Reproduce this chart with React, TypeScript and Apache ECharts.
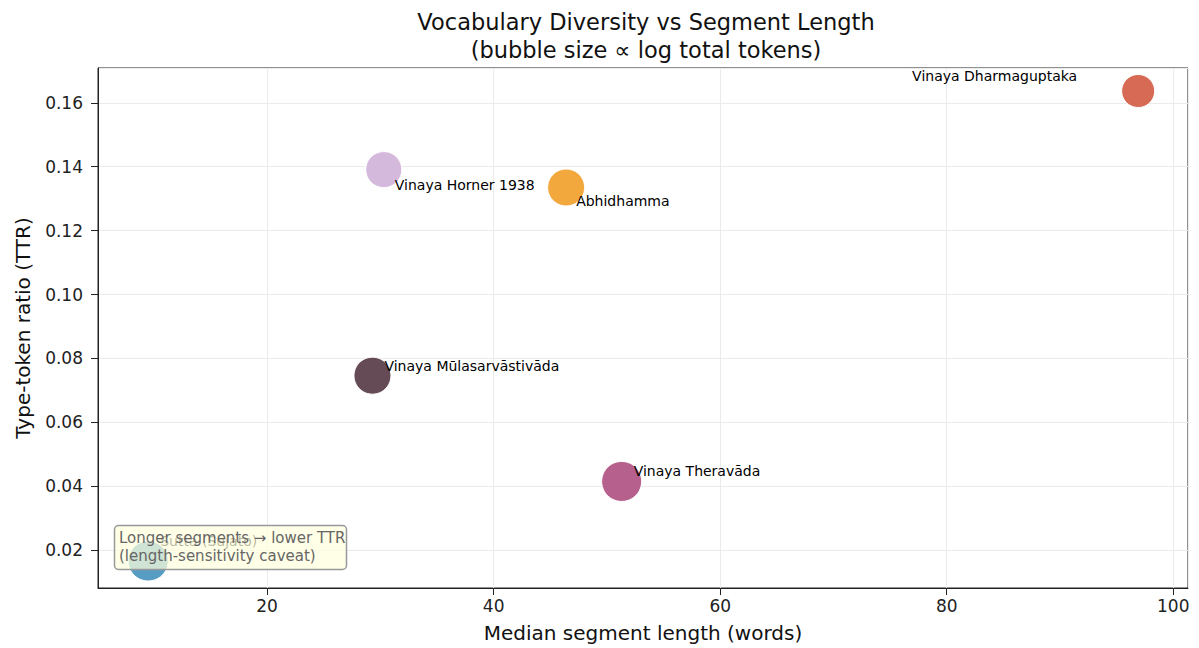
import React, { useEffect, useRef } from "react";
import * as echarts from "echarts";

const names = [
  "Sutta (Sujato)",
  "Vinaya Mūlasarvāstivāda",
  "Vinaya Horner 1938",
  "Abhidhamma",
  "Vinaya Theravāda",
  "Vinaya Dharmaguptaka",
];
const medianLength = [9.5, 29.3, 30.3, 46.4, 51.3, 96.9];
const ttr = [0.0166, 0.0746, 0.1391, 0.1335, 0.0415, 0.1637];
const bubbleSize = [40, 37, 36, 37, 40, 33];
const colors = ["#579dc3", "#644b55", "#d5b9dd", "#f2a83c", "#b5608d", "#d66a54"];
const labelOffsets: [number, number, string][] = [
  [12, -20, "left"],
  [12, -10, "left"],
  [11, 15, "left"],
  [10, 14, "left"],
  [12, -10, "left"],
  [-61, -15, "right"],
];
const titleText = "Vocabulary Diversity vs Segment Length\n(bubble size ∝ log total tokens)";
const noteText = "Longer segments → lower TTR\n(length-sensitivity caveat)";

export default function App() {
  const ref = useRef<HTMLDivElement>(null);
  useEffect(() => {
    if (!ref.current) return;
    const chart = echarts.init(ref.current, undefined, { renderer: "svg" });
    const font = "DejaVu Sans";
    chart.setOption({
      animation: false,
      textStyle: { fontFamily: font },
      title: {
        text: titleText,
        left: 641,
        textAlign: "center",
        top: 3,
        textStyle: { fontFamily: font, fontSize: 22.5, fontWeight: "normal", color: "#111", lineHeight: 28 },
      },
      grid: { left: 98, right: 11, top: 68, bottom: 58, show: true, borderColor: "#222", borderWidth: 1, backgroundColor: "transparent" },
      xAxis: {
        type: "value",
        min: 5.07,
        max: 101.3,
        splitNumber: 5,
        name: "Median segment length (words)",
        nameLocation: "middle",
        nameGap: 35,
        nameTextStyle: { fontFamily: font, fontSize: 20, color: "#111" },
        axisLine: { show: true, lineStyle: { color: "#222" } },
        axisTick: { show: true, inside: false, length: 7, lineStyle: { color: "#222" } },
        axisLabel: { fontFamily: font, fontSize: 17, color: "#222", margin: 9, showMinLabel: false, showMaxLabel: false },
        splitLine: { show: true, lineStyle: { color: "#ebebeb", width: 1 } },
      },
      yAxis: {
        type: "value",
        min: 0.00815,
        max: 0.1709,
        splitNumber: 8,
        name: "Type-token ratio (TTR)",
        nameLocation: "middle",
        nameGap: 65,
        nameTextStyle: { fontFamily: font, fontSize: 20, color: "#111" },
        axisLine: { show: true, lineStyle: { color: "#222" } },
        axisTick: { show: true, inside: false, length: 7, lineStyle: { color: "#222" } },
        axisLabel: {
          fontFamily: font,
          fontSize: 17,
          color: "#222",
          margin: 15,
          showMinLabel: false,
          showMaxLabel: false,
          formatter: (v: number) => v.toFixed(2),
        },
        splitLine: { show: true, lineStyle: { color: "#ebebeb", width: 1 } },
      },
      series: [
        {
          type: "scatter",
          data: names.map((n, i) => ({
            name: n,
            value: [medianLength[i], ttr[i]],
            symbolSize: bubbleSize[i],
            itemStyle: { color: colors[i], opacity: 1, borderColor: "#fff", borderWidth: 1 },
            label: {
              show: true,
              position: "inside",
              align: labelOffsets[i][2],
              verticalAlign: "middle",
              offset: [labelOffsets[i][0], labelOffsets[i][1]],
              formatter: n,
              fontFamily: font,
              fontSize: 14,
              color: "#000",
            },
          })),
        },
      ],
      graphic: [
        {
          type: "rect",
          z: 100,
          shape: { x: 114.5, y: 525.5, width: 232, height: 44, r: 4 },
          style: { fill: "rgba(255,255,222,0.72)", stroke: "#999", lineWidth: 1.5 },
        },
        {
          type: "text",
          z: 101,
          x: 119,
          y: 529,
          style: {
            text: noteText,
            fontFamily: font,
            fontSize: 15,
            lineHeight: 18,
            fill: "#666",
          },
        },
      ],
    });
    return () => chart.dispose();
  }, []);
  return <div ref={ref} style={{ width: 1199, height: 648, position: "absolute", left: 0, top: 0 }} />;
}
